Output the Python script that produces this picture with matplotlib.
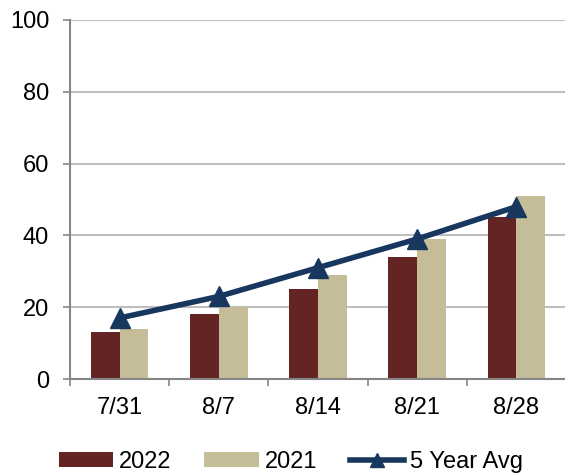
import numpy as np
import matplotlib
matplotlib.use("Agg")
import matplotlib.pyplot as plt
from matplotlib.lines import Line2D
from matplotlib.patches import Patch

# data
weeks = ["7/31", "8/7", "8/14", "8/21", "8/28"]
y2022 = [13, 18, 25, 34, 45]
y2021 = [14, 20, 29, 39, 51]
avg5 = [17, 23, 31, 39, 48]

c2022 = "#632423"
c2021 = "#C4BD97"
cavg = "#17375E"

plt.rcParams['font.family'] = ['Liberation Sans', 'DejaVu Sans']
fs = 17

fig = plt.figure(figsize=(5.65, 4.73), dpi=100)
ax = fig.add_axes([70 / 565, 1 - 379 / 473, 496 / 565, 359 / 473])

x = np.arange(len(weeks))
w = 0.29
ax.bar(x - w / 2, y2022, w, color=c2022, zorder=2)
ax.bar(x + w / 2, y2021, w, color=c2021, zorder=2)
ax.plot(x, avg5, color=cavg, lw=4, marker='^', markersize=15, zorder=3)

ax.set_xlim(-0.5, len(weeks) - 0.5)
ax.set_ylim(0, 100)
ax.set_yticks(range(0, 101, 20))
ax.set_xticks(x)
ax.set_xticklabels(weeks)
ax.set_xticks(np.arange(-0.5, len(weeks), 1), minor=True)
ax.tick_params(axis='x', which='major', length=0, pad=13, labelsize=fs)
ax.tick_params(axis='x', which='minor', length=5, width=1.2, color='#868686')
ax.tick_params(axis='y', length=5, width=1.2, color='#868686', pad=10, labelsize=fs)

ax.grid(axis='y', color='#BFBFBF', lw=1.5, zorder=0)
for s in ['top', 'right']:
    ax.spines[s].set_visible(False)
ax.spines['left'].set_color('#868686')
ax.spines['bottom'].set_color('#868686')
ax.spines['left'].set_linewidth(1.5)
ax.spines['bottom'].set_linewidth(1.5)

handles = [
    Patch(facecolor=c2022, label='2022'),
    Patch(facecolor=c2021, label='2021'),
    Line2D([], [], color=cavg, lw=4, marker='^', markersize=10, label='5 Year Avg'),
]
fig.legend(handles=handles, loc='center', bbox_to_anchor=(291 / 565, 1 - 462 / 473),
           ncol=3, frameon=False, fontsize=fs, handlelength=2.3, handleheight=0.6,
           handletextpad=0.25, columnspacing=1.4, borderpad=0)

fig.savefig("out.png", dpi=100)
